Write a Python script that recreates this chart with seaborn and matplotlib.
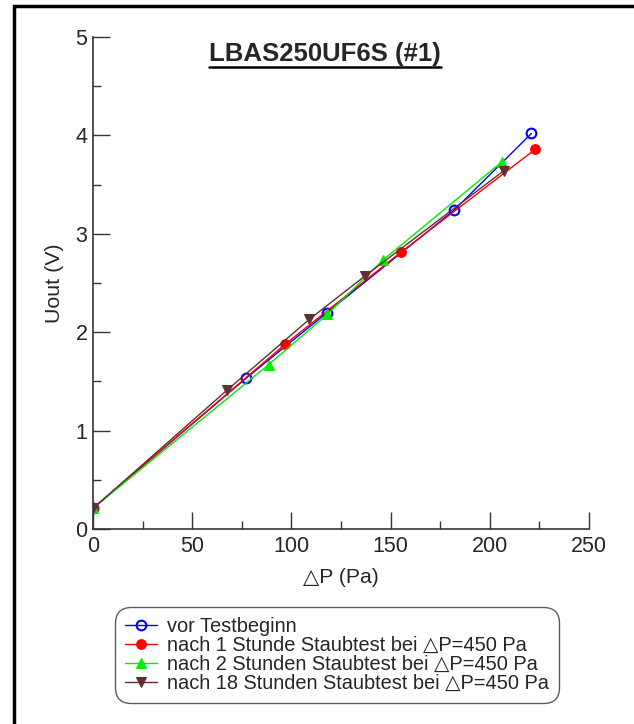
import matplotlib
matplotlib.use("Agg")
import matplotlib.pyplot as plt
import seaborn as sns
import pandas as pd
from matplotlib.lines import Line2D
from matplotlib.patches import Rectangle
from matplotlib.ticker import MultipleLocator

# ---- data ----
dp_vor = [0, 77, 118, 182, 221]
u_vor = [0.21, 1.53, 2.20, 3.24, 4.02]
dp_1h = [0, 97, 155, 223]
u_1h = [0.21, 1.88, 2.81, 3.86]
dp_2h = [0, 88.5, 118, 146, 206]
u_2h = [0.21, 1.67, 2.18, 2.73, 3.73]
dp_18h = [0, 67.5, 109, 137, 207]
u_18h = [0.21, 1.41, 2.13, 2.57, 3.64]

labels = ["vor Testbeginn",
          "nach 1 Stunde Staubtest bei \u25b3P=450 Pa",
          "nach 2 Stunden Staubtest bei \u25b3P=450 Pa",
          "nach 18 Stunden Staubtest bei \u25b3P=450 Pa"]
title = "LBAS250UF6S (#1)"
xlabel = "\u25b3P (Pa)"
ylabel = "Uout (V)"
xticks = [0, 50, 100, 150, 200, 250]
yticks = [0, 1, 2, 3, 4, 5]

sns.set_style("white")
plt.rcParams["font.family"] = ["Liberation Sans", "DejaVu Sans"]

W, H = 634, 724
fig = plt.figure(figsize=(W / 100, H / 100), dpi=100)
ax = fig.add_axes([93 / W, 1 - 529 / H, (589 - 93) / W, (529 - 37) / H])

styles = [
    dict(color="#0000ff", marker="o", markerfacecolor="none", markeredgecolor="#0000ff", markeredgewidth=1.5, markersize=7),
    dict(color="#ff0000", marker="o", markerfacecolor="#ff0000", markeredgecolor="#ff0000", markersize=7),
    dict(color="#00ee00", marker="^", markerfacecolor="#00ee00", markeredgecolor="#00ee00", markersize=7),
    dict(color="#603030", marker="v", markerfacecolor="#603030", markeredgecolor="#603030", markersize=7),
]
series = [(dp_vor, u_vor), (dp_1h, u_1h), (dp_2h, u_2h), (dp_18h, u_18h)]
for (xs, ys), lab, st in zip(series, labels, styles):
    df = pd.DataFrame({"dp": xs, "u": ys})
    sns.lineplot(data=df, x="dp", y="u", ax=ax, label=lab, sort=False,
                 linewidth=1.0, estimator=None, **st)

ax.set_xlim(0, 250)
ax.set_ylim(0, 5)
ax.set_xticks(xticks)
ax.set_yticks(yticks)
ax.xaxis.set_minor_locator(MultipleLocator(25))
ax.yaxis.set_minor_locator(MultipleLocator(0.5))
for s in ["top", "right"]:
    ax.spines[s].set_visible(False)
for s in ["left", "bottom"]:
    ax.spines[s].set_color("#333333")
    ax.spines[s].set_linewidth(1.2)
ax.tick_params(which="major", direction="in", length=12.5, width=1.0, color="#333333", labelsize=15.5)
ax.tick_params(which="minor", direction="in", length=6, width=1.0, color="#333333")
ax.tick_params(axis="x", which="both", bottom=True, pad=5)
ax.tick_params(axis="y", which="both", left=True, pad=4)
ax.set_xlabel(xlabel, fontsize=15.2, labelpad=8)
ax.set_ylabel(ylabel, fontsize=15.4, labelpad=8)
ax.set_facecolor("white")

t = ax.text(0.468, (529 - 61) / 492, title, transform=ax.transAxes, ha="center", va="baseline",
            fontsize=18.5, fontweight="bold")

leg = ax.legend(loc="upper left", bbox_to_anchor=(115 / W, 1 - 607 / H),
                bbox_transform=fig.transFigure, fontsize=14.4, frameon=True,
                fancybox=True, handlelength=1.6, handletextpad=0.5,
                labelspacing=0.0, borderpad=0.5, numpoints=1, borderaxespad=0)
leg.get_frame().set_edgecolor("#333333")
leg.get_frame().set_linewidth(1.0)
leg.get_frame().set_boxstyle("round,pad=0.0,rounding_size=0.8")

# underline title
fig.canvas.draw()
bb = t.get_window_extent()
inv = fig.transFigure.inverted()
(x0, y0), (x1, y1) = inv.transform([(bb.x0, bb.y0 - 1), (bb.x1, bb.y0 - 1)])
fig.add_artist(Line2D([x0, x1], [y0, y1], transform=fig.transFigure, color="black", linewidth=1.8))

# outer border (left and top visible)
fig.add_artist(Rectangle((14 / W, -0.1), 1.2, 1 - 5.5 / H + 0.1, transform=fig.transFigure,
                         fill=False, edgecolor="black", linewidth=2.5))

fig.savefig("out.png", dpi=100, facecolor="white")
